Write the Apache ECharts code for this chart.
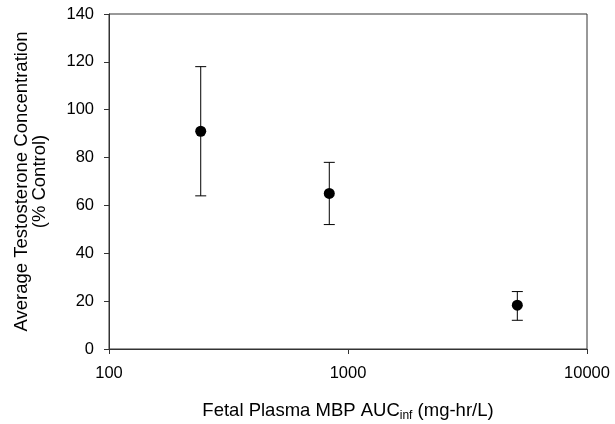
<!DOCTYPE html>
<html><head><meta charset="utf-8">
<script src="https://cdn.jsdelivr.net/npm/echarts@6/dist/echarts.min.js"></script>
<style>html,body{margin:0;padding:0;background:#fff}#c{width:615px;height:424px}</style>
</head><body><div id="c"></div>
<script>
var xVals = [242, 835, 5110];
var means = [91, 65, 18.3];
var lows = [64, 52, 12];
var highs = [118, 78, 24];
var yTicks = [0, 20, 40, 60, 80, 100, 120, 140];
var xTicks = [100, 1000, 10000];

var chart = echarts.init(document.getElementById('c'));
var font = 'Liberation Sans, Arial, sans-serif';
var errData = xVals.map(function (x, i) { return [x, lows[i], highs[i]]; });
chart.setOption({
  animation: false,
  grid: { left: 109, right: 28, top: 14, bottom: 75, show: true, borderColor: '#333', borderWidth: 1, backgroundColor: 'transparent', containLabel: false, outerBoundsMode: 'none' },
  xAxis: {
    type: 'log', logBase: 10, min: xTicks[0], max: xTicks[xTicks.length - 1],
    splitLine: { show: false }, minorTick: { show: false },
    axisLine: { lineStyle: { color: '#333', width: 1 } },
    axisTick: { show: true, length: 5, inside: false, lineStyle: { color: '#333' } },
    axisLabel: { color: '#000', fontSize: 16.5, fontFamily: font, margin: 16, formatter: function (v) { return String(Math.round(v)); } },
    name: '{a|Fetal Plasma MBP AUC}{s|inf}{a| (mg-hr/L)}',
    nameLocation: 'middle', nameGap: 51,
    nameTextStyle: {
      rich: {
        a: { fontSize: 18.5, fontFamily: font, color: '#000', lineHeight: 22 },
        s: { fontSize: 12, fontFamily: font, color: '#000', lineHeight: 22, padding: [10, 0, 0, 0] }
      }
    }
  },
  yAxis: {
    type: 'value', min: yTicks[0], max: yTicks[yTicks.length - 1], interval: 20,
    splitLine: { show: false },
    axisLine: { show: true, lineStyle: { color: '#333', width: 1 } },
    axisTick: { show: true, length: 5, inside: false, lineStyle: { color: '#333' } },
    axisLabel: { color: '#000', fontSize: 16.5, fontFamily: font, margin: 15 },
    name: 'Average Testosterone Concentration\n(% Control)',
    nameLocation: 'middle', nameGap: 60,
    nameTextStyle: { fontSize: 18.5, fontFamily: font, color: '#000', lineHeight: 18 }
  },
  series: [
    {
      type: 'custom',
      data: errData,
      z: 2,
      renderItem: function (params, api) {
        var x = api.value(0);
        var lo = api.coord([x, api.value(1)]);
        var hi = api.coord([x, api.value(2)]);
        var hw = 5.5;
        var st = { stroke: '#000', lineWidth: 1 };
        return {
          type: 'group',
          children: [
            { type: 'line', shape: { x1: lo[0], y1: lo[1], x2: hi[0], y2: hi[1] }, style: st },
            { type: 'line', shape: { x1: hi[0] - hw, y1: hi[1], x2: hi[0] + hw, y2: hi[1] }, style: st },
            { type: 'line', shape: { x1: lo[0] - hw, y1: lo[1], x2: lo[0] + hw, y2: lo[1] }, style: st }
          ]
        };
      }
    },
    {
      type: 'scatter',
      data: xVals.map(function (x, i) { return [x, means[i]]; }),
      symbol: 'circle', symbolSize: 11,
      itemStyle: { color: '#000', opacity: 1 },
      z: 3
    }
  ]
});
</script></body></html>
